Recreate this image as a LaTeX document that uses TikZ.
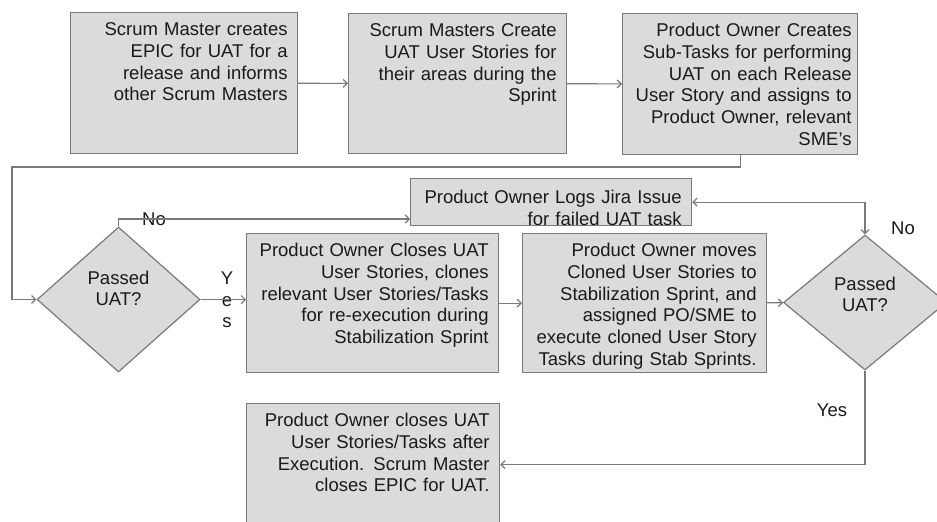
\documentclass[tikz,border=0pt]{standalone}
\usepackage{fontspec}
\setmainfont{Liberation Sans}
\usetikzlibrary{arrows.meta,shapes.geometric}
\definecolor{boxgray}{HTML}{DBDBDB}
\definecolor{linegray}{HTML}{7A7A7A}
\definecolor{textgray}{HTML}{1A1A1A}

\begin{document}
\begin{tikzpicture}[x=1pt,y=-1pt,text=textgray,
    font=\fontsize{18.5}{21.7}\selectfont,
    >={Straight Barb[length=4pt,width=8pt]}]
\useasboundingbox (0,0) rectangle (937,522);
\begin{scope}[every node/.style={draw=linegray,line width=1.2pt,fill=boxgray,
              anchor=north west,align=right,inner xsep=10pt,inner ysep=6pt,
              text height=17pt}]
    \node[text width=207pt,text depth=112pt] (s1) at (70,12)
        {Scrum Master creates\\EPIC for UAT for a\\release and informs\\other Scrum Masters};
    \node[text width=198pt,text depth=111pt] (s2) at (348,13)
        {Scrum Masters Create\\UAT User Stories for\\their areas during the\\Sprint};
    \node[text width=223pt,inner xsep=6pt,text depth=112pt] (s3) at (622,13)
        {Product Owner Creates\\Sub-Tasks for performing\\UAT on each Release\\User Story and assigns to\\Product Owner, relevant\\SME's};
    \node[text width=261pt,text height=19pt,text depth=16pt] (jira) at (410,178)
        {Product Owner Logs Jira Issue\\for failed UAT task};
    \node[text width=232pt,text depth=110pt] (s4) at (246,233)
        {Product Owner Closes UAT\\User Stories, clones\\relevant User Stories/Tasks\\for re-execution during\\Stabilization Sprint};
    \node[text width=224pt,text depth=110pt] (s5) at (522,233)
        {Product Owner moves\\Cloned User Stories to\\Stabilization Sprint, and\\assigned PO/SME to\\execute cloned User Story\\Tasks during Stab Sprints.};
    \node[text width=233pt,text depth=93pt] (s6) at (246,403)
        {Product Owner closes UAT\\User Stories/Tasks after\\Execution. Scrum Master\\closes EPIC for UAT.};
\end{scope}
\begin{scope}[every node/.style={diamond,draw=linegray,line width=1.2pt,fill=boxgray,
              inner sep=0pt,minimum width=163pt}]
    \node[minimum height=145pt] (d1) at (118.5,299.5) {};
    \node[minimum height=135pt] (d2) at (865,302.5) {};
\end{scope}
\begin{scope}[every node/.style={align=center,inner sep=0pt}]
    \node (q1) at ([yshift=11pt]d1.center) {Passed\\UAT?};
    \node (q2) at ([yshift=8pt]d2.center) {Passed\\UAT?};
    \node (no1) at (154,219) {No};
    \node (yes1) at (227,300) {Y\\e\\s};
    \node (no2) at (903,228) {No};
    \node (yes2) at (832,410) {Yes};
\end{scope}
\coordinate (lp) at (12,167);
\begin{scope}[draw=linegray,line width=1.2pt,
              every edge/.style={draw=linegray,line width=1.2pt,->}]
    \path (s1) edge (s2);
    \path (s2) edge (s3);
    \path (s4) edge (s5);
    \path (s5) edge (d2);
    \draw[->] (s3.south) |- (lp) |- (d1.west);
    \draw[->] (d1.north) |- (jira.west |- no1);
    \draw[->] (d1.east) -- (d1.east -| s4.west);
    \draw[<->] (jira.east) -| (d2.north);
    \draw[->] (d2.south) |- (s6.east);
\end{scope}
\end{tikzpicture}
\end{document}
